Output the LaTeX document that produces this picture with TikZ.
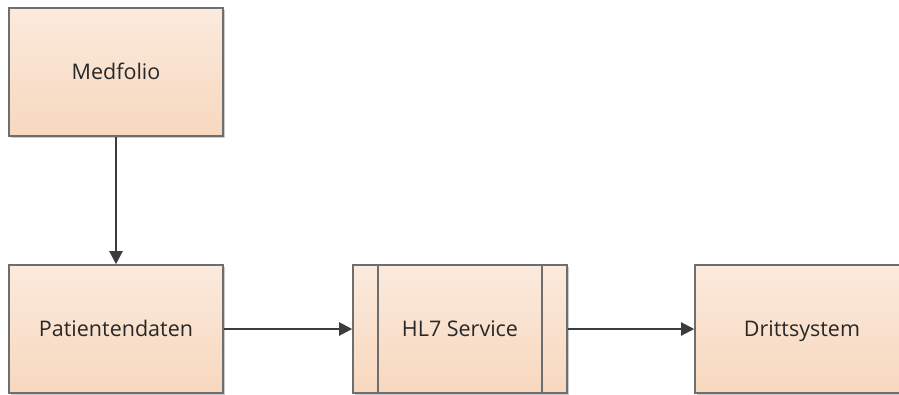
\documentclass[tikz,border=0pt]{standalone}
\usepackage{fontspec}
\setmainfont{Open Sans}
\usetikzlibrary{arrows.meta,shadows}

\definecolor{boxtop}{RGB}{251,234,221}
\definecolor{boxbottom}{RGB}{247,216,190}
\definecolor{boxline}{RGB}{110,110,110}
\definecolor{arrowline}{RGB}{60,60,60}
\definecolor{boxtext}{RGB}{40,40,40}

\begin{document}
\begin{tikzpicture}[x=1pt,y=-1pt]
		\tikzstyle{every node}+=[inner sep=0pt]
		\tikzstyle{sysbox}=[draw=boxline, line width=1.6pt, top color=boxtop, bottom color=boxbottom,
			minimum width=214pt, minimum height=128pt, text=boxtext, font=\fontsize{21.5}{24}\selectfont,
			text height=16pt, text depth=2pt,
			drop shadow={shadow xshift=2pt, shadow yshift=-2pt, opacity=0.2, fill=black}]
		\tikzstyle{flow}=[arrowline, line width=2.2pt, -{Triangle[length=13pt,width=13pt]}]
		\useasboundingbox (0,0) rectangle (899,394);
		\clip (0,0) rectangle (899,394);
		\node [sysbox] (medfolio) at (116,72) {Medfolio};
		\node [sysbox] (patient) at (116,329) {Patientendaten};
		\node [sysbox] (hl7) at (460,329) {HL7 Service};
		\node [sysbox] (dritt) at (802,329) {Drittsystem};
		\draw [boxline, line width=1.6pt] ([xshift=26pt]hl7.north west) -- ([xshift=26pt]hl7.south west);
		\draw [boxline, line width=1.6pt] ([xshift=-26pt]hl7.north east) -- ([xshift=-26pt]hl7.south east);
		\draw [flow] (medfolio) -- (patient);
		\draw [flow] (patient) -- (hl7);
		\draw [flow] (hl7) -- (dritt);
\end{tikzpicture}
\end{document}
